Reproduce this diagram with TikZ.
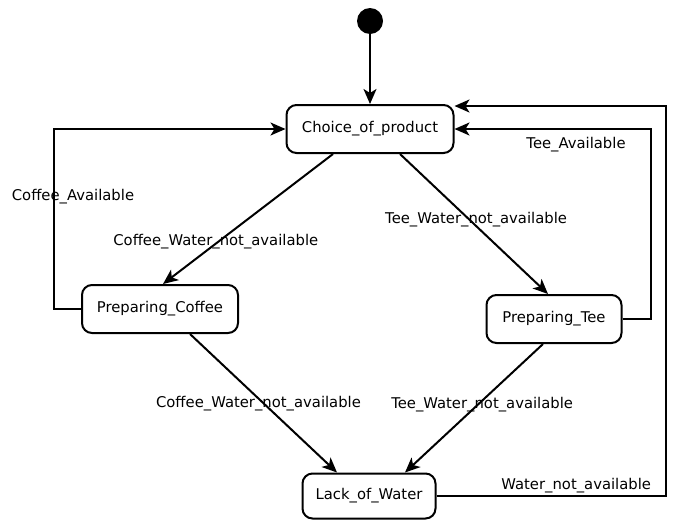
\documentclass[tikz,border=0pt]{standalone}
\usepackage{fontspec}
\setmainfont{DejaVu Sans}
\usetikzlibrary{positioning,arrows.meta}

\tikzset{
  state/.style={draw,line width=2pt,rounded corners=10pt,minimum height=48pt,inner sep=0pt,font=\fontsize{14.8}{17}\selectfont},
  lbl/.style={font=\fontsize{14.8}{17}\selectfont,inner sep=1pt},
  trans/.style={->,line width=2pt},
}

\begin{document}
\begin{tikzpicture}[x=1pt,y=-1pt,>={Stealth[length=15pt,width=13pt,inset=4pt]}]
\useasboundingbox (0,0) rectangle (676,520);
\fill (370,21) circle (13pt) coordinate (init);
\node[state,minimum width=167pt] (choice) at (370,129) {Choice\_of\_product};
\node[state,minimum width=156pt] (coffee) at (160,309) {Preparing\_Coffee};
\node[state,minimum width=135pt] (tee) at (554,319) {Preparing\_Tee};
\node[state,minimum width=133pt,minimum height=45pt] (lack) at (369,496) {Lack\_of\_Water};

\draw[trans] ([yshift=-13pt]init) -- (choice.north);
% to the preparing states
\draw[trans] ([xshift=-37pt]choice.south) -- ([xshift=3pt]coffee.north) node[lbl,pos=0.66,xshift=-5pt,yshift=-2pt]{Coffee\_Water\_not\_available};
\draw[trans] ([xshift=30pt]choice.south) -- ([xshift=-6pt]tee.north) node[lbl,pos=0.46,xshift=8pt,yshift=-1pt]{Tee\_Water\_not\_available};
% back to the choice
\draw[trans] (coffee.west) -- ++(-27,0) |- (choice.west) node[lbl,pos=0.32,xshift=19pt,yshift=-3pt]{Coffee\_Available};
\draw[trans] (tee.east) -- ++(28,0) |- (choice.east) node[lbl,pos=0.69,below=6pt]{Tee\_Available};
% lack of water
\draw[trans] ([xshift=30pt]coffee.south) -- ([xshift=-32pt]lack.north) node[lbl,pos=0.5,xshift=-5pt]{Coffee\_Water\_not\_available};
\draw[trans] ([xshift=-11pt]tee.south) -- ([xshift=36pt]lack.north) node[lbl,pos=0.47,xshift=4pt]{Tee\_Water\_not\_available};
\draw[trans] (lack.east) -- ++(229,0) node[lbl,pos=0.61,above=1pt]{Water\_not\_available} |- ([yshift=23pt]choice.east);
\end{tikzpicture}
\end{document}
